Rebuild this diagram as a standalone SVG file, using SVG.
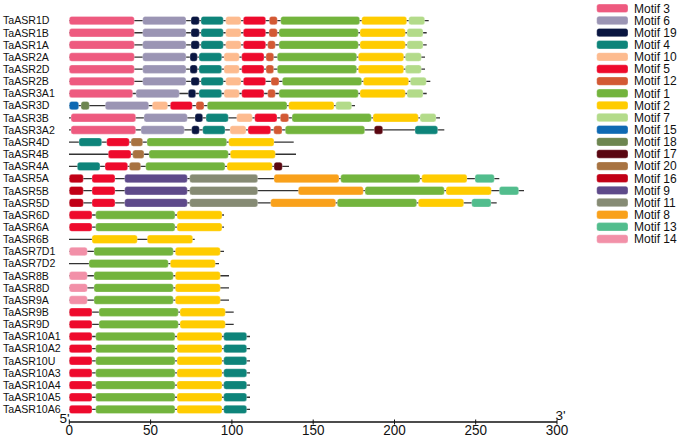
<svg xmlns="http://www.w3.org/2000/svg" width="685" height="437" viewBox="0 0 685 437">
<style>
text{font-family:"Liberation Sans",Arial,sans-serif;fill:#111}
.lab{font-size:10.6px}
.leg{font-size:12px}
.ax{font-size:13.5px;text-anchor:middle}
.bb{stroke:#333;stroke-width:1.3}
.row rect,.lg rect{rx:2.5px;ry:2.5px;stroke:#fff;stroke-width:0.5;stroke-opacity:0.6}
.m1{fill:#73B43D}.m2{fill:#FFCC00}.m3{fill:#EE5A7F}.m4{fill:#0E847A}.m5{fill:#EE0A2C}
.m6{fill:#9B95B4}.m7{fill:#B3DB8A}.m8{fill:#F9A11B}.m9{fill:#5E4A8A}.m10{fill:#FDBB8F}
.m11{fill:#868B74}.m12{fill:#D35934}.m13{fill:#52BD8D}.m14{fill:#F290A8}.m15{fill:#0E69B3}
.m16{fill:#C10016}.m17{fill:#5A0611}.m18{fill:#6D8650}.m19{fill:#0A1641}.m20{fill:#A87341}
</style>
<g id="connectors">
<line class="bb" x1="69" y1="20.6" x2="428.7" y2="20.6"/>
<line class="bb" x1="69" y1="32.75" x2="426.7" y2="32.75"/>
<line class="bb" x1="69" y1="44.9" x2="426.7" y2="44.9"/>
<line class="bb" x1="69" y1="57.05" x2="425" y2="57.05"/>
<line class="bb" x1="69" y1="69.2" x2="425" y2="69.2"/>
<line class="bb" x1="69" y1="81.35" x2="430.3" y2="81.35"/>
<line class="bb" x1="69" y1="93.5" x2="426.7" y2="93.5"/>
<line class="bb" x1="69" y1="105.65" x2="355" y2="105.65"/>
<line class="bb" x1="69" y1="117.8" x2="440" y2="117.8"/>
<line class="bb" x1="69" y1="129.95" x2="444.3" y2="129.95"/>
<line class="bb" x1="69" y1="142.1" x2="293.7" y2="142.1"/>
<line class="bb" x1="69" y1="154.25" x2="296" y2="154.25"/>
<line class="bb" x1="69" y1="166.4" x2="289" y2="166.4"/>
<line class="bb" x1="69" y1="178.55" x2="499.3" y2="178.55"/>
<line class="bb" x1="69" y1="190.7" x2="524" y2="190.7"/>
<line class="bb" x1="69" y1="202.85" x2="496.7" y2="202.85"/>
<line class="bb" x1="69" y1="215" x2="224" y2="215"/>
<line class="bb" x1="69" y1="227.15" x2="224" y2="227.15"/>
<line class="bb" x1="69" y1="239.3" x2="194.7" y2="239.3"/>
<line class="bb" x1="69" y1="251.45" x2="224" y2="251.45"/>
<line class="bb" x1="69" y1="263.6" x2="219" y2="263.6"/>
<line class="bb" x1="69" y1="275.75" x2="229" y2="275.75"/>
<line class="bb" x1="69" y1="287.9" x2="229" y2="287.9"/>
<line class="bb" x1="69" y1="300.05" x2="229" y2="300.05"/>
<line class="bb" x1="69" y1="312.2" x2="233.7" y2="312.2"/>
<line class="bb" x1="69" y1="324.35" x2="233.7" y2="324.35"/>
<line class="bb" x1="69" y1="336.5" x2="250" y2="336.5"/>
<line class="bb" x1="69" y1="348.65" x2="250" y2="348.65"/>
<line class="bb" x1="69" y1="360.8" x2="250" y2="360.8"/>
<line class="bb" x1="69" y1="372.95" x2="250" y2="372.95"/>
<line class="bb" x1="69" y1="385.1" x2="250" y2="385.1"/>
<line class="bb" x1="69" y1="397.25" x2="250" y2="397.25"/>
<line class="bb" x1="69" y1="409.4" x2="250" y2="409.4"/>
</g>
<g id="TaASR1D" class="row" transform="translate(0,20.6)"><text class="lab" x="3" y="3.8">TaASR1D</text>
<rect class="m3" x="69.3" y="-4.2" width="65" height="8.4"/><rect class="m6" x="142.7" y="-4.2" width="43.3" height="8.4"/><rect class="m19" x="191" y="-4.2" width="8.3" height="8.4"/><rect class="m4" x="201" y="-4.2" width="22.3" height="8.4"/><rect class="m10" x="225.7" y="-4.2" width="15.3" height="8.4"/><rect class="m5" x="243.3" y="-4.2" width="22.4" height="8.4"/><rect class="m12" x="269.3" y="-4.2" width="8" height="8.4"/><rect class="m1" x="280.7" y="-4.2" width="79" height="8.4"/><rect class="m2" x="361.7" y="-4.2" width="45" height="8.4"/><rect class="m7" x="408.7" y="-4.2" width="16" height="8.4"/></g>
<g id="TaASR1B" class="row" transform="translate(0,32.75)"><text class="lab" x="3" y="3.8">TaASR1B</text>
<rect class="m3" x="69.3" y="-4.2" width="65" height="8.4"/><rect class="m6" x="142.7" y="-4.2" width="43.3" height="8.4"/><rect class="m19" x="191" y="-4.2" width="8.3" height="8.4"/><rect class="m4" x="201" y="-4.2" width="22.3" height="8.4"/><rect class="m10" x="225.7" y="-4.2" width="15.3" height="8.4"/><rect class="m5" x="243.3" y="-4.2" width="22.4" height="8.4"/><rect class="m12" x="269" y="-4.2" width="8.3" height="8.4"/><rect class="m1" x="279" y="-4.2" width="79.3" height="8.4"/><rect class="m2" x="360" y="-4.2" width="45.3" height="8.4"/><rect class="m7" x="407" y="-4.2" width="16" height="8.4"/></g>
<g id="TaASR1A" class="row" transform="translate(0,44.9)"><text class="lab" x="3" y="3.8">TaASR1A</text>
<rect class="m3" x="69.3" y="-4.2" width="65" height="8.4"/><rect class="m6" x="142.7" y="-4.2" width="43.3" height="8.4"/><rect class="m19" x="191" y="-4.2" width="8.3" height="8.4"/><rect class="m4" x="201" y="-4.2" width="22.3" height="8.4"/><rect class="m10" x="225.7" y="-4.2" width="15.3" height="8.4"/><rect class="m5" x="243.3" y="-4.2" width="22.4" height="8.4"/><rect class="m12" x="267.7" y="-4.2" width="7.6" height="8.4"/><rect class="m1" x="279" y="-4.2" width="79.3" height="8.4"/><rect class="m2" x="360" y="-4.2" width="45.3" height="8.4"/><rect class="m7" x="407" y="-4.2" width="16" height="8.4"/></g>
<g id="TaASR2A" class="row" transform="translate(0,57.05)"><text class="lab" x="3" y="3.8">TaASR2A</text>
<rect class="m3" x="69.3" y="-4.2" width="65" height="8.4"/><rect class="m6" x="142.7" y="-4.2" width="43.3" height="8.4"/><rect class="m19" x="190" y="-4.2" width="7.3" height="8.4"/><rect class="m4" x="199" y="-4.2" width="22.7" height="8.4"/><rect class="m10" x="224" y="-4.2" width="15.3" height="8.4"/><rect class="m5" x="241.7" y="-4.2" width="22.3" height="8.4"/><rect class="m12" x="266" y="-4.2" width="7.7" height="8.4"/><rect class="m1" x="277.3" y="-4.2" width="79.4" height="8.4"/><rect class="m2" x="358.3" y="-4.2" width="45.4" height="8.4"/><rect class="m7" x="405.3" y="-4.2" width="16" height="8.4"/></g>
<g id="TaASR2D" class="row" transform="translate(0,69.2)"><text class="lab" x="3" y="3.8">TaASR2D</text>
<rect class="m3" x="69.3" y="-4.2" width="65" height="8.4"/><rect class="m6" x="142.7" y="-4.2" width="43.3" height="8.4"/><rect class="m19" x="190" y="-4.2" width="7.3" height="8.4"/><rect class="m4" x="199" y="-4.2" width="22.7" height="8.4"/><rect class="m10" x="224" y="-4.2" width="15.3" height="8.4"/><rect class="m5" x="241.7" y="-4.2" width="22.3" height="8.4"/><rect class="m12" x="266" y="-4.2" width="7.7" height="8.4"/><rect class="m1" x="277.3" y="-4.2" width="79.4" height="8.4"/><rect class="m2" x="358.3" y="-4.2" width="45.4" height="8.4"/><rect class="m7" x="405.3" y="-4.2" width="16" height="8.4"/></g>
<g id="TaASR2B" class="row" transform="translate(0,81.35)"><text class="lab" x="3" y="3.8">TaASR2B</text>
<rect class="m3" x="69.3" y="-4.2" width="65" height="8.4"/><rect class="m6" x="142.7" y="-4.2" width="43.3" height="8.4"/><rect class="m19" x="191" y="-4.2" width="8.3" height="8.4"/><rect class="m4" x="201" y="-4.2" width="22.3" height="8.4"/><rect class="m10" x="225.7" y="-4.2" width="15.3" height="8.4"/><rect class="m5" x="243.3" y="-4.2" width="22.4" height="8.4"/><rect class="m12" x="271" y="-4.2" width="8" height="8.4"/><rect class="m1" x="282.3" y="-4.2" width="79.4" height="8.4"/><rect class="m2" x="363.3" y="-4.2" width="45.4" height="8.4"/><rect class="m7" x="410.3" y="-4.2" width="16" height="8.4"/></g>
<g id="TaASR3A1" class="row" transform="translate(0,93.5)"><text class="lab" x="3" y="3.8">TaASR3A1</text>
<rect class="m3" x="69.3" y="-4.2" width="63.4" height="8.4"/><rect class="m6" x="136" y="-4.2" width="43.3" height="8.4"/><rect class="m19" x="188.3" y="-4.2" width="7.4" height="8.4"/><rect class="m4" x="199" y="-4.2" width="22.7" height="8.4"/><rect class="m10" x="224" y="-4.2" width="15.3" height="8.4"/><rect class="m5" x="241.7" y="-4.2" width="22.3" height="8.4"/><rect class="m12" x="267.7" y="-4.2" width="7.6" height="8.4"/><rect class="m1" x="279" y="-4.2" width="79.3" height="8.4"/><rect class="m2" x="360" y="-4.2" width="45.3" height="8.4"/><rect class="m7" x="407" y="-4.2" width="16" height="8.4"/></g>
<g id="TaASR3D" class="row" transform="translate(0,105.65)"><text class="lab" x="3" y="3.8">TaASR3D</text>
<rect class="m15" x="69.3" y="-4.2" width="9.4" height="8.4"/><rect class="m18" x="81" y="-4.2" width="8.3" height="8.4"/><rect class="m6" x="105.3" y="-4.2" width="43.4" height="8.4"/><rect class="m10" x="152.3" y="-4.2" width="15.4" height="8.4"/><rect class="m5" x="170.3" y="-4.2" width="22" height="8.4"/><rect class="m12" x="196" y="-4.2" width="8" height="8.4"/><rect class="m1" x="207.3" y="-4.2" width="79.7" height="8.4"/><rect class="m2" x="288.7" y="-4.2" width="45.3" height="8.4"/><rect class="m7" x="335.7" y="-4.2" width="16" height="8.4"/></g>
<g id="TaASR3B" class="row" transform="translate(0,117.8)"><text class="lab" x="3" y="3.8">TaASR3B</text>
<rect class="m3" x="71" y="-4.2" width="64.7" height="8.4"/><rect class="m6" x="144" y="-4.2" width="43.3" height="8.4"/><rect class="m19" x="195" y="-4.2" width="7.7" height="8.4"/><rect class="m4" x="206" y="-4.2" width="22.3" height="8.4"/><rect class="m10" x="236.7" y="-4.2" width="15.6" height="8.4"/><rect class="m5" x="254.7" y="-4.2" width="22.3" height="8.4"/><rect class="m12" x="280.3" y="-4.2" width="8.4" height="8.4"/><rect class="m1" x="292" y="-4.2" width="79.3" height="8.4"/><rect class="m2" x="373" y="-4.2" width="45.3" height="8.4"/><rect class="m7" x="420" y="-4.2" width="16" height="8.4"/></g>
<g id="TaASR3A2" class="row" transform="translate(0,129.95)"><text class="lab" x="3" y="3.8">TaASR3A2</text>
<rect class="m3" x="71" y="-4.2" width="64.7" height="8.4"/><rect class="m6" x="141" y="-4.2" width="43.3" height="8.4"/><rect class="m19" x="191.7" y="-4.2" width="7.6" height="8.4"/><rect class="m4" x="202.7" y="-4.2" width="22.3" height="8.4"/><rect class="m10" x="230" y="-4.2" width="16" height="8.4"/><rect class="m5" x="248" y="-4.2" width="22.7" height="8.4"/><rect class="m12" x="273.7" y="-4.2" width="8.3" height="8.4"/><rect class="m1" x="285.3" y="-4.2" width="79.4" height="8.4"/><rect class="m17" x="374.3" y="-4.2" width="8.4" height="8.4"/><rect class="m4" x="415" y="-4.2" width="22.7" height="8.4"/></g>
<g id="TaASR4D" class="row" transform="translate(0,142.1)"><text class="lab" x="3" y="3.8">TaASR4D</text>
<rect class="m4" x="79" y="-4.2" width="22.7" height="8.4"/><rect class="m5" x="106.7" y="-4.2" width="22.6" height="8.4"/><rect class="m20" x="131" y="-4.2" width="11.7" height="8.4"/><rect class="m1" x="147" y="-4.2" width="79.7" height="8.4"/><rect class="m2" x="228.7" y="-4.2" width="45.3" height="8.4"/></g>
<g id="TaASR4B" class="row" transform="translate(0,154.25)"><text class="lab" x="3" y="3.8">TaASR4B</text>
<rect class="m5" x="108.3" y="-4.2" width="22.7" height="8.4"/><rect class="m20" x="132.7" y="-4.2" width="11.3" height="8.4"/><rect class="m1" x="149" y="-4.2" width="79.3" height="8.4"/><rect class="m2" x="230.3" y="-4.2" width="45" height="8.4"/></g>
<g id="TaASR4A" class="row" transform="translate(0,166.4)"><text class="lab" x="3" y="3.8">TaASR4A</text>
<rect class="m4" x="77.3" y="-4.2" width="22.7" height="8.4"/><rect class="m5" x="105" y="-4.2" width="22.7" height="8.4"/><rect class="m20" x="129.3" y="-4.2" width="11.4" height="8.4"/><rect class="m1" x="145.7" y="-4.2" width="79.3" height="8.4"/><rect class="m2" x="227" y="-4.2" width="45.3" height="8.4"/><rect class="m17" x="274" y="-4.2" width="8.3" height="8.4"/></g>
<g id="TaASR5A" class="row" transform="translate(0,178.55)"><text class="lab" x="3" y="3.8">TaASR5A</text>
<rect class="m16" x="69.3" y="-4.2" width="14" height="8.4"/><rect class="m5" x="92" y="-4.2" width="23" height="8.4"/><rect class="m9" x="124.7" y="-4.2" width="62.6" height="8.4"/><rect class="m11" x="189.7" y="-4.2" width="68" height="8.4"/><rect class="m8" x="274" y="-4.2" width="65" height="8.4"/><rect class="m1" x="340.7" y="-4.2" width="79.3" height="8.4"/><rect class="m2" x="421.7" y="-4.2" width="45.3" height="8.4"/><rect class="m13" x="475" y="-4.2" width="19.3" height="8.4"/></g>
<g id="TaASR5B" class="row" transform="translate(0,190.7)"><text class="lab" x="3" y="3.8">TaASR5B</text>
<rect class="m16" x="69.3" y="-4.2" width="14" height="8.4"/><rect class="m5" x="92" y="-4.2" width="23" height="8.4"/><rect class="m9" x="124.7" y="-4.2" width="62.6" height="8.4"/><rect class="m11" x="189.7" y="-4.2" width="68" height="8.4"/><rect class="m8" x="298.3" y="-4.2" width="65" height="8.4"/><rect class="m1" x="365" y="-4.2" width="79.3" height="8.4"/><rect class="m2" x="446" y="-4.2" width="45.3" height="8.4"/><rect class="m13" x="499.3" y="-4.2" width="19.4" height="8.4"/></g>
<g id="TaASR5D" class="row" transform="translate(0,202.85)"><text class="lab" x="3" y="3.8">TaASR5D</text>
<rect class="m16" x="69.3" y="-4.2" width="14" height="8.4"/><rect class="m5" x="92" y="-4.2" width="23" height="8.4"/><rect class="m9" x="124.7" y="-4.2" width="62.6" height="8.4"/><rect class="m11" x="189.7" y="-4.2" width="68" height="8.4"/><rect class="m8" x="270.7" y="-4.2" width="65" height="8.4"/><rect class="m1" x="337.3" y="-4.2" width="79.4" height="8.4"/><rect class="m2" x="418.3" y="-4.2" width="45.4" height="8.4"/><rect class="m13" x="471.7" y="-4.2" width="19.3" height="8.4"/></g>
<g id="TaASR6D" class="row" transform="translate(0,215)"><text class="lab" x="3" y="3.8">TaASR6D</text>
<rect class="m5" x="69.3" y="-4.2" width="22.7" height="8.4"/><rect class="m1" x="95.7" y="-4.2" width="79.3" height="8.4"/><rect class="m2" x="177" y="-4.2" width="45" height="8.4"/></g>
<g id="TaASR6A" class="row" transform="translate(0,227.15)"><text class="lab" x="3" y="3.8">TaASR6A</text>
<rect class="m5" x="69.3" y="-4.2" width="22.7" height="8.4"/><rect class="m1" x="95.7" y="-4.2" width="79.3" height="8.4"/><rect class="m2" x="177" y="-4.2" width="45" height="8.4"/></g>
<g id="TaASR6B" class="row" transform="translate(0,239.3)"><text class="lab" x="3" y="3.8">TaASR6B</text>
<rect class="m2" x="92" y="-4.2" width="45.3" height="8.4"/><rect class="m2" x="147.3" y="-4.2" width="45.4" height="8.4"/></g>
<g id="TaASR7D1" class="row" transform="translate(0,251.45)"><text class="lab" x="3" y="3.8">TaASR7D1</text>
<rect class="m14" x="69.3" y="-4.2" width="18" height="8.4"/><rect class="m1" x="94" y="-4.2" width="79.3" height="8.4"/><rect class="m2" x="175.3" y="-4.2" width="45" height="8.4"/></g>
<g id="TaASR7D2" class="row" transform="translate(0,263.6)"><text class="lab" x="3" y="3.8">TaASR7D2</text>
<rect class="m1" x="89" y="-4.2" width="79.3" height="8.4"/><rect class="m2" x="170.3" y="-4.2" width="45" height="8.4"/></g>
<g id="TaASR8B" class="row" transform="translate(0,275.75)"><text class="lab" x="3" y="3.8">TaASR8B</text>
<rect class="m14" x="69.3" y="-4.2" width="18" height="8.4"/><rect class="m1" x="94" y="-4.2" width="79.3" height="8.4"/><rect class="m2" x="175.3" y="-4.2" width="45" height="8.4"/></g>
<g id="TaASR8D" class="row" transform="translate(0,287.9)"><text class="lab" x="3" y="3.8">TaASR8D</text>
<rect class="m14" x="69.3" y="-4.2" width="18" height="8.4"/><rect class="m1" x="94" y="-4.2" width="79.3" height="8.4"/><rect class="m2" x="175.3" y="-4.2" width="45" height="8.4"/></g>
<g id="TaASR9A" class="row" transform="translate(0,300.05)"><text class="lab" x="3" y="3.8">TaASR9A</text>
<rect class="m14" x="69.3" y="-4.2" width="18" height="8.4"/><rect class="m1" x="94" y="-4.2" width="79.3" height="8.4"/><rect class="m2" x="175.3" y="-4.2" width="45" height="8.4"/></g>
<g id="TaASR9B" class="row" transform="translate(0,312.2)"><text class="lab" x="3" y="3.8">TaASR9B</text>
<rect class="m5" x="69.3" y="-4.2" width="22.7" height="8.4"/><rect class="m1" x="99" y="-4.2" width="79.3" height="8.4"/><rect class="m2" x="180" y="-4.2" width="45.3" height="8.4"/></g>
<g id="TaASR9D" class="row" transform="translate(0,324.35)"><text class="lab" x="3" y="3.8">TaASR9D</text>
<rect class="m5" x="69.3" y="-4.2" width="22.7" height="8.4"/><rect class="m1" x="99" y="-4.2" width="79.3" height="8.4"/><rect class="m2" x="180" y="-4.2" width="45.3" height="8.4"/></g>
<g id="TaASR10A1" class="row" transform="translate(0,336.5)"><text class="lab" x="3" y="3.8">TaASR10A1</text>
<rect class="m5" x="69.3" y="-4.2" width="22.7" height="8.4"/><rect class="m1" x="95.7" y="-4.2" width="79.3" height="8.4"/><rect class="m2" x="177" y="-4.2" width="45" height="8.4"/><rect class="m4" x="223.7" y="-4.2" width="23" height="8.4"/></g>
<g id="TaASR10A2" class="row" transform="translate(0,348.65)"><text class="lab" x="3" y="3.8">TaASR10A2</text>
<rect class="m5" x="69.3" y="-4.2" width="22.7" height="8.4"/><rect class="m1" x="95.7" y="-4.2" width="79.3" height="8.4"/><rect class="m2" x="177" y="-4.2" width="45" height="8.4"/><rect class="m4" x="223.7" y="-4.2" width="23" height="8.4"/></g>
<g id="TaASR10U" class="row" transform="translate(0,360.8)"><text class="lab" x="3" y="3.8">TaASR10U</text>
<rect class="m5" x="69.3" y="-4.2" width="22.7" height="8.4"/><rect class="m1" x="95.7" y="-4.2" width="79.3" height="8.4"/><rect class="m2" x="177" y="-4.2" width="45" height="8.4"/><rect class="m4" x="223.7" y="-4.2" width="23" height="8.4"/></g>
<g id="TaASR10A3" class="row" transform="translate(0,372.95)"><text class="lab" x="3" y="3.8">TaASR10A3</text>
<rect class="m5" x="69.3" y="-4.2" width="22.7" height="8.4"/><rect class="m1" x="95.7" y="-4.2" width="79.3" height="8.4"/><rect class="m2" x="177" y="-4.2" width="45" height="8.4"/><rect class="m4" x="223.7" y="-4.2" width="23" height="8.4"/></g>
<g id="TaASR10A4" class="row" transform="translate(0,385.1)"><text class="lab" x="3" y="3.8">TaASR10A4</text>
<rect class="m5" x="69.3" y="-4.2" width="22.7" height="8.4"/><rect class="m1" x="95.7" y="-4.2" width="79.3" height="8.4"/><rect class="m2" x="177" y="-4.2" width="45" height="8.4"/><rect class="m4" x="223.7" y="-4.2" width="23" height="8.4"/></g>
<g id="TaASR10A5" class="row" transform="translate(0,397.25)"><text class="lab" x="3" y="3.8">TaASR10A5</text>
<rect class="m5" x="69.3" y="-4.2" width="22.7" height="8.4"/><rect class="m1" x="95.7" y="-4.2" width="79.3" height="8.4"/><rect class="m2" x="177" y="-4.2" width="45" height="8.4"/><rect class="m4" x="223.7" y="-4.2" width="23" height="8.4"/></g>
<g id="TaASR10A6" class="row" transform="translate(0,409.4)"><text class="lab" x="3" y="3.8">TaASR10A6</text>
<rect class="m5" x="69.3" y="-4.2" width="22.7" height="8.4"/><rect class="m1" x="95.7" y="-4.2" width="79.3" height="8.4"/><rect class="m2" x="177" y="-4.2" width="45" height="8.4"/><rect class="m4" x="223.7" y="-4.2" width="23" height="8.4"/></g>
<g id="axis">
<line x1="69.3" y1="422" x2="557" y2="422" stroke="#111" stroke-width="1.3"/>
<path d="M69.3 419.5V424.5M150.6 419.5V424.5M231.9 419.5V424.5M313.2 419.5V424.5M394.5 419.5V424.5M475.7 419.5V424.5M557 419.5V424.5" stroke="#111" stroke-width="1"/>
<text class="ax" transform="translate(69.3,434.8) scale(1,1.12)">0</text>
<text class="ax" transform="translate(150.6,434.8) scale(1,1.12)">50</text>
<text class="ax" transform="translate(231.9,434.8) scale(1,1.12)">100</text>
<text class="ax" transform="translate(313.2,434.8) scale(1,1.12)">150</text>
<text class="ax" transform="translate(394.5,434.8) scale(1,1.12)">200</text>
<text class="ax" transform="translate(475.7,434.8) scale(1,1.12)">250</text>
<text class="ax" transform="translate(557,434.8) scale(1,1.12)">300</text>
<text x="59.5" y="422.5" style="font-size:13.5px">5'</text>
<text x="555.5" y="419.5" style="font-size:13.5px">3'</text>
</g>
<g id="legend" class="lg">
<g id="leg-m3"><rect class="m3" x="596.7" y="4.1" width="31.3" height="8.4"/><text class="leg" x="634" y="12.6">Motif 3</text></g>
<g id="leg-m6"><rect class="m6" x="596.7" y="16.24" width="31.3" height="8.4"/><text class="leg" x="634" y="24.74">Motif 6</text></g>
<g id="leg-m19"><rect class="m19" x="596.7" y="28.38" width="31.3" height="8.4"/><text class="leg" x="634" y="36.88">Motif 19</text></g>
<g id="leg-m4"><rect class="m4" x="596.7" y="40.52" width="31.3" height="8.4"/><text class="leg" x="634" y="49.02">Motif 4</text></g>
<g id="leg-m10"><rect class="m10" x="596.7" y="52.66" width="31.3" height="8.4"/><text class="leg" x="634" y="61.16">Motif 10</text></g>
<g id="leg-m5"><rect class="m5" x="596.7" y="64.8" width="31.3" height="8.4"/><text class="leg" x="634" y="73.3">Motif 5</text></g>
<g id="leg-m12"><rect class="m12" x="596.7" y="76.94" width="31.3" height="8.4"/><text class="leg" x="634" y="85.44">Motif 12</text></g>
<g id="leg-m1"><rect class="m1" x="596.7" y="89.08" width="31.3" height="8.4"/><text class="leg" x="634" y="97.58">Motif 1</text></g>
<g id="leg-m2"><rect class="m2" x="596.7" y="101.22" width="31.3" height="8.4"/><text class="leg" x="634" y="109.72">Motif 2</text></g>
<g id="leg-m7"><rect class="m7" x="596.7" y="113.36" width="31.3" height="8.4"/><text class="leg" x="634" y="121.86">Motif 7</text></g>
<g id="leg-m15"><rect class="m15" x="596.7" y="125.5" width="31.3" height="8.4"/><text class="leg" x="634" y="134">Motif 15</text></g>
<g id="leg-m18"><rect class="m18" x="596.7" y="137.64" width="31.3" height="8.4"/><text class="leg" x="634" y="146.14">Motif 18</text></g>
<g id="leg-m17"><rect class="m17" x="596.7" y="149.78" width="31.3" height="8.4"/><text class="leg" x="634" y="158.28">Motif 17</text></g>
<g id="leg-m20"><rect class="m20" x="596.7" y="161.92" width="31.3" height="8.4"/><text class="leg" x="634" y="170.42">Motif 20</text></g>
<g id="leg-m16"><rect class="m16" x="596.7" y="174.06" width="31.3" height="8.4"/><text class="leg" x="634" y="182.56">Motif 16</text></g>
<g id="leg-m9"><rect class="m9" x="596.7" y="186.2" width="31.3" height="8.4"/><text class="leg" x="634" y="194.7">Motif 9</text></g>
<g id="leg-m11"><rect class="m11" x="596.7" y="198.34" width="31.3" height="8.4"/><text class="leg" x="634" y="206.84">Motif 11</text></g>
<g id="leg-m8"><rect class="m8" x="596.7" y="210.48" width="31.3" height="8.4"/><text class="leg" x="634" y="218.98">Motif 8</text></g>
<g id="leg-m13"><rect class="m13" x="596.7" y="222.62" width="31.3" height="8.4"/><text class="leg" x="634" y="231.12">Motif 13</text></g>
<g id="leg-m14"><rect class="m14" x="596.7" y="234.76" width="31.3" height="8.4"/><text class="leg" x="634" y="243.26">Motif 14</text></g>
</g>
</svg>
